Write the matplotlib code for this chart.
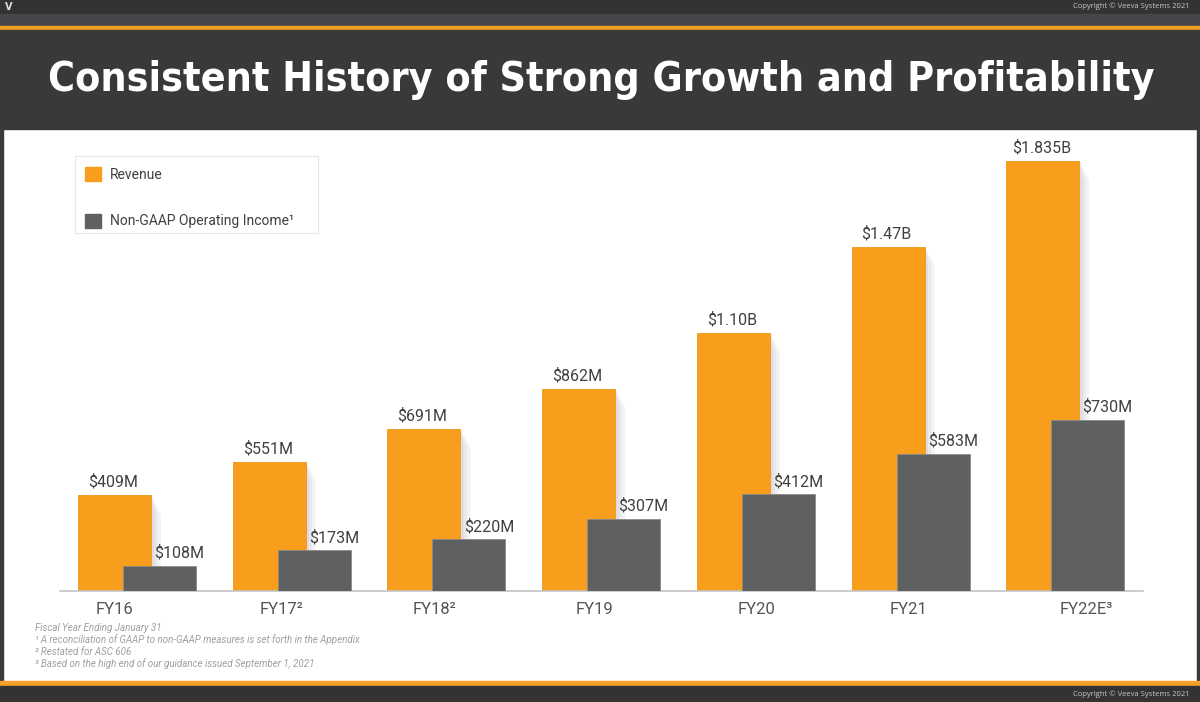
import numpy as np
import matplotlib
matplotlib.use("Agg")
import matplotlib.pyplot as plt
from matplotlib.patches import Rectangle, Polygon
from matplotlib import font_manager


categories = ["FY16", "FY17²", "FY18²", "FY19", "FY20", "FY21", "FY22E³"]
revenue = [409, 551, 691, 862, 1100, 1470, 1835]
op_income = [108, 173, 220, 307, 412, 583, 730]
revenue_labels = ["$409M", "$551M", "$691M", "$862M", "$1.10B", "$1.47B", "$1.835B"]
income_labels = ["$108M", "$173M", "$220M", "$307M", "$412M", "$583M", "$730M"]
series_names = ["Revenue", "Non-GAAP Operating Income¹"]
title = "Consistent History of Strong Growth and Profitability"
footnotes = [
    "Fiscal Year Ending January 31",
    "¹ A reconciliation of GAAP to non-GAAP measures is set forth in the Appendix",
    "² Restated for ASC 606",
    "³ Based on the high end of our guidance issued September 1, 2021",
]
copyright_text = "Copyright © Veeva Systems 2021"

ORANGE = "#F99D1C"
GREY = "#5F6062"
DARK = "#3A3838"
TEXT = "#404040"

W, H = 1200, 702
fig = plt.figure(figsize=(W / 100, H / 100), dpi=100)
fig.patch.set_facecolor("white")

# background in pixel coords
bg = fig.add_axes([0, 0, 1, 1])
bg.set_xlim(0, W)
bg.set_ylim(H, 0)
bg.axis("off")

bg.add_patch(Rectangle((0, 0), W, 14, color="#333333"))
bg.add_patch(Rectangle((0, 14), W, 12, color="#45474a"))
bg.add_patch(Rectangle((0, 26), W, 3.5, color="#F2A024"))
bg.add_patch(Rectangle((0, 29.5), W, 99, color=DARK))
bg.add_patch(Rectangle((0, 128), 3, 553, color="#3a3a3a"))
bg.add_patch(Rectangle((W - 3, 128), 3, 553, color="#3a3a3a"))
bg.add_patch(Rectangle((0, 681), W, 5, color="#F7A12A"))
bg.add_patch(Rectangle((0, 686), W, 16, color="#333333"))

bg.text(9, 7, "V", color="#e0e0e0", fontsize=7, fontweight="bold",
        ha="center", va="center")
bg.text(1190, 6, copyright_text, color="#c8c8c8", fontsize=5.5,
        ha="right", va="center", family="Open Sans")
bg.text(1190, 694, copyright_text, color="#c8c8c8", fontsize=5.5,
        ha="right", va="center", family="Open Sans")

# title wants a narrow bold face; take whatever condensed one is around
title_props = dict(family="Roboto", fontweight="bold")
for fam, stretch in [("Liberation Sans Narrow", "normal"),
                     ("DejaVu Sans", "condensed"),
                     ("Open Sans", "condensed")]:
    try:
        path = font_manager.findfont(
            font_manager.FontProperties(family=fam, stretch=stretch,
                                        weight="bold"),
            fallback_to_default=False)
    except ValueError:
        continue
    if "Narrow" in path or "Condensed" in path:
        title_props = dict(fname=None, family=fam, fontstretch=stretch,
                           fontweight="bold")
        title_props.pop("fname")
        break

t = bg.text(601, 80, title, color="white", fontsize=34,
            ha="center", va="center", **title_props)
fig.canvas.draw()
tw = t.get_window_extent().width
t.set_fontsize(34 * 1107 / tw)

# legend
bg.add_patch(Rectangle((75, 156), 243, 77, facecolor="white",
                       edgecolor="#e6e6e6", lw=0.8))
bg.add_patch(Rectangle((85, 167), 16, 14, color=ORANGE))
bg.add_patch(Rectangle((85, 214), 16, 14, color=GREY))
bg.text(110, 175, series_names[0], color=TEXT, fontsize=10, family="Roboto",
        va="center")
bg.text(110, 221, series_names[1], color=TEXT, fontsize=10, family="Roboto",
        va="center")

# footnotes
for k, line in enumerate(footnotes):
    bg.text(35, 628 + 12 * k, line, color="#a0a0a0", fontsize=7,
            style="italic", family="Roboto", va="center")

# chart
px_per_m = 430 / 1835
grp = 154.7
ax = fig.add_axes([60 / W, (H - 591) / H, 1083 / W, 441 / H])
ax.set_facecolor("none")
ax.set_ylim(0, 441 / px_per_m)
ax.set_xlim(-54.5 / grp, (1143 - 114.5) / grp)

x = np.arange(len(categories))
bw = 73 / grp
goff = 45 / grp

# soft shadow right of revenue bars
for xi, v in zip(x, revenue):
    xr = xi + bw / 2
    for sw, col in [(10, "#f3f3f5"), (6.5, "#e9e9ec"), (3.5, "#dedee2")]:
        d = sw / grp
        ax.add_patch(Polygon([(xr, v), (xr + d, v - 19 / px_per_m),
                              (xr + d, 0), (xr, 0)], closed=True,
                             facecolor=col, edgecolor="none", zorder=1))

ax.bar(x, revenue, width=bw, color=ORANGE, edgecolor="#EE951A", lw=0.6,
       zorder=2)
ax.bar(x + goff, op_income, width=bw, color=GREY, edgecolor="#8a8a8c",
       lw=0.6, zorder=3)

for xi, v, lab in zip(x, revenue, revenue_labels):
    ax.annotate(lab, (xi, v), xytext=(-1, 9.5), textcoords="offset points",
                ha="center", va="center", fontsize=11.5, color=TEXT,
                family="Roboto")
for xi, v, lab in zip(x, op_income, income_labels):
    ax.annotate(lab, (xi + 0.42, v), xytext=(0, 9.5),
                textcoords="offset points", ha="center", va="center",
                fontsize=11.5, color=TEXT, family="Roboto")

label_shift = [0.0, 0.08, 0.065, 0.1, 0.15, 0.135, 0.28]
ax.set_xticks(x + np.array(label_shift), categories)
ax.tick_params(axis="x", length=0, pad=8, labelsize=12, labelcolor="#555555")
for lbl in ax.get_xticklabels():
    lbl.set_family("Roboto")
ax.set_yticks([])
for s in ["top", "right", "left"]:
    ax.spines[s].set_visible(False)
ax.spines["bottom"].set_color("#c4c4c4")
ax.spines["bottom"].set_linewidth(1.2)

fig.savefig("out.png", dpi=100)
